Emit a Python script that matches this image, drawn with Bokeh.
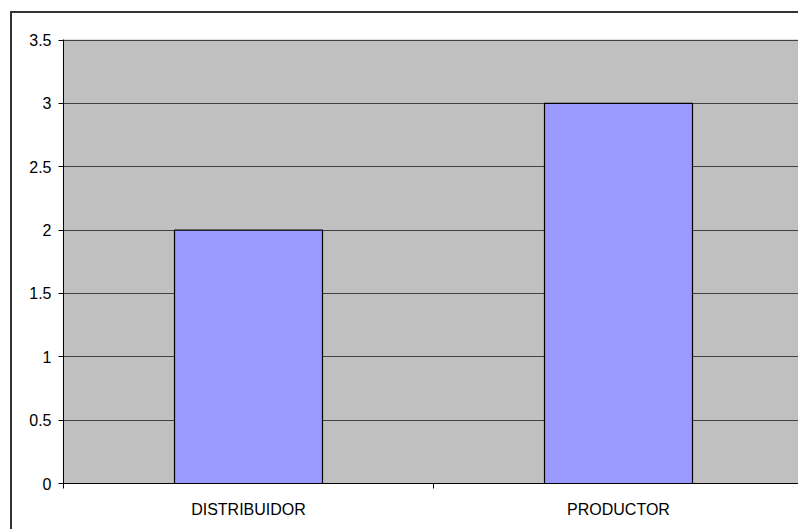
from bokeh.plotting import figure
from bokeh.models import Range1d, FixedTicker, LinearAxis, InlineStyleSheet
from bokeh.embed import file_html
from bokeh.resources import INLINE

# Data
categories = ["DISTRIBUIDOR", "PRODUCTOR"]
values = [2, 3]
y_ticks = [0, 0.5, 1, 1.5, 2, 2.5, 3, 3.5]
y_tick_labels = ["0", "0.5", "1", "1.5", "2", "2.5", "3", "3.5"]

FONT = "Liberation Sans"
FONT_SIZE = "16px"

x_centers = [i + 0.5 for i in range(len(categories))]
x_bounds = list(range(len(categories) + 1))

# frame: 735 px wide (370 px per category), 444 px tall
p = figure(
    width=798, height=529,
    x_range=Range1d(0, 735 / 370), y_range=Range1d(0, 3.5 * 444 / 443.5),
    output_backend="svg", toolbar_location=None,
    x_axis_location=None, y_axis_location=None,
    min_border_left=63, min_border_right=0,
    min_border_top=39, min_border_bottom=46,
)
p.background_fill_color = "#C0C0C0"
p.border_fill_color = "white"
p.outline_line_color = None

# Bars
p.vbar(x=x_centers, top=values, width=0.4,
       fill_color="#9999FF", line_color="black", line_width=1.2)

# Value axis
yaxis = LinearAxis(ticker=FixedTicker(ticks=y_ticks, minor_ticks=[]))
yaxis.major_label_overrides = {t: s for t, s in zip(y_ticks, y_tick_labels)}
yaxis.axis_line_color = "black"
yaxis.major_tick_line_color = "black"
yaxis.major_tick_in = 0
yaxis.major_tick_out = 5
yaxis.major_label_standoff = 7
yaxis.major_label_text_font = FONT
yaxis.major_label_text_font_size = FONT_SIZE
yaxis.major_label_text_color = "black"
p.add_layout(yaxis, "left")

# Category axis: tick marks between categories, labels centred under bars
xaxis = LinearAxis(ticker=FixedTicker(ticks=x_centers, minor_ticks=x_bounds))
xaxis.major_label_overrides = {c: s for c, s in zip(x_centers, categories)}
xaxis.axis_line_color = "black"
xaxis.major_tick_in = 0
xaxis.major_tick_out = 0
xaxis.minor_tick_in = 0
xaxis.minor_tick_out = 5
xaxis.minor_tick_line_color = "black"
xaxis.major_label_standoff = 12
xaxis.major_label_text_font = FONT
xaxis.major_label_text_font_size = FONT_SIZE
xaxis.major_label_text_color = "black"
p.add_layout(xaxis, "below")

# Horizontal grid lines
p.xgrid.visible = False
p.ygrid.ticker = FixedTicker(ticks=y_ticks)
p.ygrid.grid_line_color = "#404040"
p.ygrid.grid_line_width = 1

# Chart area border (left and top edges)
p.stylesheets = [InlineStyleSheet(css="""
:host::after {
  content: "";
  position: absolute;
  left: 10px; top: 11px; right: 0; bottom: 0;
  border-left: 2px solid #333333;
  border-top: 2px solid #333333;
  pointer-events: none;
}
""")]

open("out.html", "w").write(file_html(p, INLINE))
